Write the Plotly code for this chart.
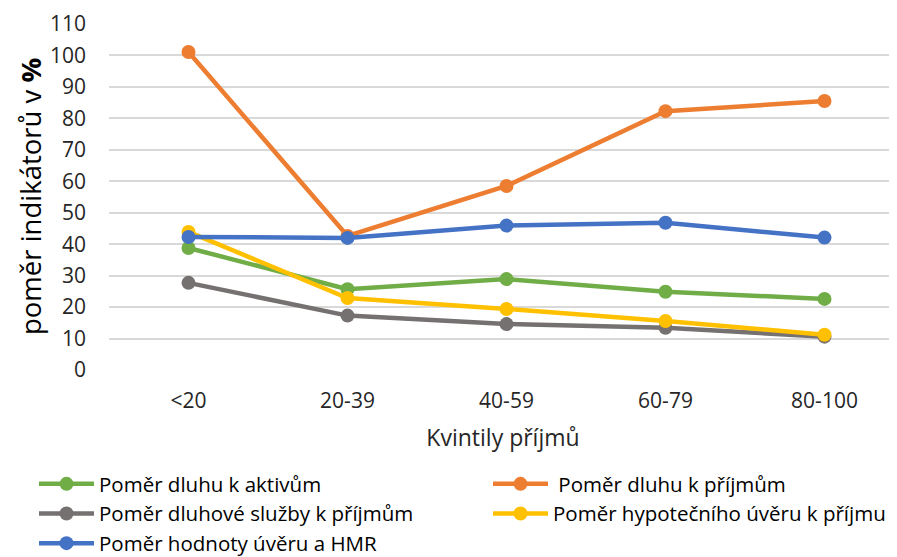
import plotly.graph_objects as go

categories = ["<20", "20-39", "40-59", "60-79", "80-100"]
names = ["Poměr dluhu k aktivům", " Poměr dluhu k příjmům", "Poměr dluhové služby k příjmům",
         "Poměr hypotečního úvěru k příjmu", "Poměr hodnoty úvěru a HMR"]
debt_assets = [38.8, 25.7, 28.9, 24.9, 22.6]
debt_income = [101.1, 42.6, 58.5, 82.3, 85.5]
debt_service = [27.7, 17.3, 14.6, 13.4, 10.6]
mortgage_income = [43.9, 22.9, 19.4, 15.6, 11.2]
ltv_hmr = [42.3, 42.0, 45.9, 46.8, 42.1]
colors = ["#70AD47", "#ED7D31", "#767171", "#FFC000", "#4472C4"]
legend_ids = ["legend", "legend2", "legend", "legend2", "legend"]
series = [debt_assets, debt_income, debt_service, mortgage_income, ltv_hmr]

ff = "Open Sans, sans-serif"
W, H = 889, 549  # page body has an 8px margin

fig = go.Figure()
for name, vals, col, lg in zip(names, series, colors, legend_ids):
    fig.add_trace(go.Scatter(
        x=list(range(len(categories))), y=vals, name=name, mode="lines+markers",
        line=dict(color=col, width=4.5), marker=dict(color=col, size=14),
        legend=lg,
    ))

leg_common = dict(orientation="v", xanchor="left", yanchor="top", xref="container", yref="container",
                  itemwidth=55, font=dict(size=20.5, family=ff, color="#000000"),
                  bgcolor="rgba(0,0,0,0)", traceorder="normal", tracegroupgap=0)

plot_w = W - 101
fig.update_layout(
    width=W, height=H,
    margin=dict(l=101, r=0, t=16, b=H - 16 - 346, autoexpand=False),
    plot_bgcolor="white", paper_bgcolor="white",
    font=dict(family=ff, color="#262626"),
    showlegend=True,
    legend=dict(x=26 / W, y=1 - 456 / H, **leg_common),
    legend2=dict(x=480 / W, y=1 - 456 / H, **leg_common),
    xaxis=dict(tickmode="array", tickvals=list(range(len(categories))), ticktext=categories,
               range=[-0.5, 4.456], showgrid=False, zeroline=False, showline=False,
               tickfont=dict(size=21, color="#262626"), ticks="", ticklabelstandoff=16,
               title=dict(text="Kvintily příjmů", font=dict(size=23, color="#262626"), standoff=16)),
    yaxis=dict(range=[0, 110], tickvals=list(range(0, 111, 10)), showgrid=True,
               gridcolor="#D9D9D9", gridwidth=1.5, zeroline=False, showline=False,
               tickfont=dict(size=21, color="#262626"), ticks="", ticklabelstandoff=22),
    annotations=[dict(text="poměr indikátorů v <b>%</b>", textangle=-90, xref="paper", yref="paper",
                      x=(30 - 109) / plot_w, y=0.5, xanchor="center", yanchor="middle", showarrow=False,
                      font=dict(size=27.5, family=ff, color="#000000"))],
)
fig.write_html("out.html")
